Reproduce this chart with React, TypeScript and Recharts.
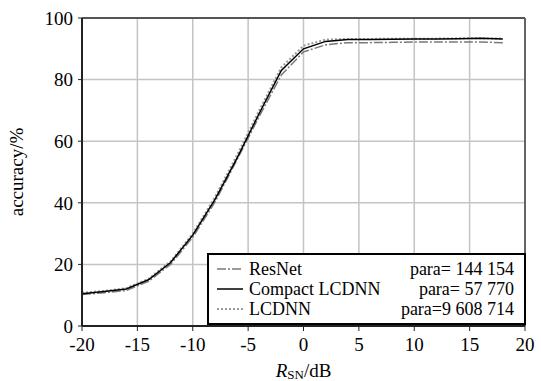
import React from 'react';
import { LineChart, Line, XAxis, YAxis, CartesianGrid, ReferenceLine, Label } from 'recharts';

const snr = [-20, -18, -16, -14, -12, -10, -8, -6, -4, -2, 0, 2, 4, 6, 8, 10, 12, 14, 16, 18];
const resnet = [10.2, 10.8, 11.5, 14.5, 20.0, 28.8, 40.2, 54.0, 68.0, 81.5, 89.0, 91.3, 92.0, 92.0, 92.1, 92.2, 92.2, 92.2, 92.2, 92.0];
const compact = [10.5, 11.2, 12.0, 15.0, 20.6, 29.5, 41.0, 54.5, 69.0, 83.0, 90.0, 92.4, 93.0, 93.0, 93.1, 93.2, 93.2, 93.3, 93.4, 93.2];
const lcdnn = [10.8, 11.4, 12.3, 15.3, 21.0, 30.0, 41.8, 55.5, 70.0, 84.0, 91.0, 93.0, 93.2, 93.2, 93.3, 93.3, 93.3, 93.4, 93.4, 93.3];

const xTicks = [-20, -15, -10, -5, 0, 5, 10, 15, 20];
const yTicks = [0, 20, 40, 60, 80, 100];

const seriesNames = ['ResNet', 'Compact LCDNN', 'LCDNN'];
const seriesParams = ['para= 144 154', 'para= 57 770', 'para=9 608 714'];
const seriesColors = ['#7a7a7a', '#000000', '#9a9a9a'];
const seriesDash = ['9 2 2 2', undefined, '2 2'];
const seriesWidth = [1.5, 1.5, 2];

const data = snr.map((x, i) => ({ x, resnet: resnet[i], compact: compact[i], lcdnn: lcdnn[i] }));

const FONT = 'Liberation Serif, serif';

const LegendBox = () => (
  <div
    style={{
      position: 'absolute',
      left: 207,
      top: 253,
      border: '2px solid #000',
      background: '#fff',
      boxSizing: 'border-box',
      width: 319,
      height: 72,
      padding: '4px 10px 0 6px',
      fontFamily: FONT,
      fontSize: 18,
      color: '#000',
    }}
  >
    {seriesNames.map((n, i) => (
      <div key={n} style={{ display: 'flex', alignItems: 'center', height: 20, lineHeight: '20px' }}>
        <svg width={34} height={10} style={{ flex: 'none' }}>
          <line x1={2} y1={5} x2={28} y2={5} stroke={seriesColors[i]} strokeWidth={seriesWidth[i]} strokeDasharray={seriesDash[i]} />
        </svg>
        <span style={{ flex: 'none' }}>{n}</span>
        <span style={{ flex: 1, textAlign: 'right' }}>{seriesParams[i]}</span>
      </div>
    ))}
  </div>
);

const XLabel = (props: any) => {
  const vb = props.viewBox || {};
  const cx = vb.x + vb.width / 2;
  return (
    <text x={cx} y={370} textAnchor="middle" dominantBaseline="central" fontFamily={FONT} fontSize={19} fill="#000">
      <tspan fontStyle="italic">R</tspan>
      <tspan fontSize={13} dy={4}>SN</tspan>
      <tspan dy={-4}>/dB</tspan>
    </text>
  );
};

export default function App() {
  return (
    <div style={{ position: 'absolute', left: 0, top: 0, width: 541, height: 381, background: '#fff', fontFamily: FONT }}>
      <LineChart width={541} height={381} data={data} margin={{ top: 18, right: 16, bottom: 0, left: 0 }}>
        <CartesianGrid stroke="#c4c4c4" strokeWidth={1.5} vertical horizontal />
        <XAxis
          dataKey="x"
          type="number"
          domain={[-20, 20]}
          ticks={xTicks}
          height={55}
          tickSize={5}
          tickMargin={7}
          axisLine={{ stroke: '#222', strokeWidth: 2 }}
          tickLine={{ stroke: '#222' }}
          tick={{ fill: '#000', fontFamily: FONT, fontSize: 19 }}
          interval={0}
        >
          <Label content={<XLabel />} />
        </XAxis>
        <YAxis
          type="number"
          domain={[0, 100]}
          ticks={yTicks}
          width={82}
          tickSize={4}
          tickMargin={5}
          axisLine={{ stroke: '#222', strokeWidth: 2 }}
          tickLine={{ stroke: '#222' }}
          tick={{ fill: '#000', fontFamily: FONT, fontSize: 19 }}
          interval={0}
        >
          <Label
            value="accuracy/%"
            angle={-90}
            position="insideLeft"
            offset={16}
            style={{ textAnchor: 'middle', fontFamily: FONT, fontSize: 19, fill: '#000' }}
          />
        </YAxis>
        <ReferenceLine y={100} stroke="#555" strokeWidth={2} />
        <ReferenceLine x={20} stroke="#666" strokeWidth={2} />
        <Line dataKey="lcdnn" stroke={seriesColors[2]} strokeWidth={seriesWidth[2]} strokeDasharray={seriesDash[2]} dot={false} isAnimationActive={false} />
        <Line dataKey="resnet" stroke={seriesColors[0]} strokeWidth={seriesWidth[0]} strokeDasharray={seriesDash[0]} dot={false} isAnimationActive={false} />
        <Line dataKey="compact" stroke={seriesColors[1]} strokeWidth={seriesWidth[1]} dot={false} isAnimationActive={false} />
      </LineChart>
      <LegendBox />
    </div>
  );
}
